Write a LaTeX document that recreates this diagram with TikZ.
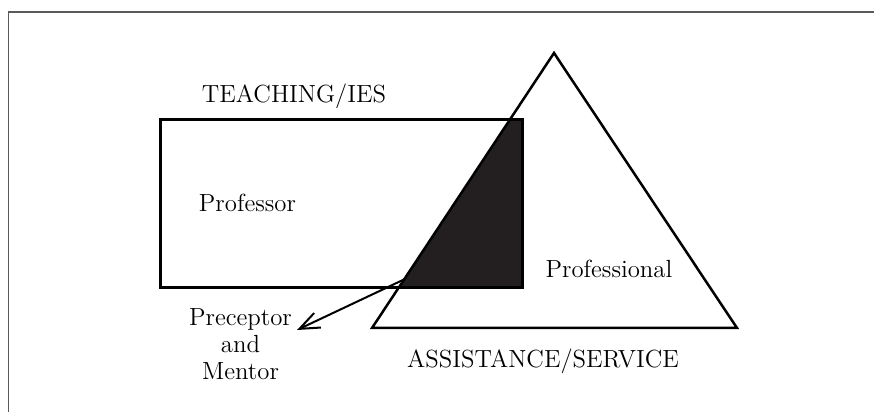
\documentclass[tikz,border=0pt]{standalone}
\usepackage{tikz}
\usetikzlibrary{arrows.meta}

\definecolor{framegray}{HTML}{5A5A5A}
\definecolor{overlap}{HTML}{231F20}

\begin{document}
\begin{tikzpicture}[x=0.5pt,y=0.5pt,line join=miter]
  \tikzstyle{label}=[inner sep=0pt,anchor=base,font=\fontsize{12.4}{13.5}\selectfont]
  \tikzstyle{box}=[draw,line width=1.5pt,minimum width=181pt,minimum height=84pt,inner sep=0pt,outer sep=0pt]
  \tikzstyle{tri}=[line width=1.25pt]

  \useasboundingbox (0,0) rectangle (874,412);
  % frame, open to the right and bottom
  \draw[framegray,line width=0.65pt] (8.5,0) -- (8.5,400) -- (874,400);

  % teaching box and service triangle
  \node[box]       (teaching) at (341,208) {};
  \coordinate      (top)      at (554,359);
  \coordinate      (left)     at (372,84);
  \coordinate      (right)    at (737,84);

  % shaded overlap
  \begin{scope}
    \clip (teaching.south west) rectangle (teaching.north east);
    \fill[overlap] (top) -- (left) -- (right) -- cycle;
  \end{scope}
  \node[box] at (teaching) {};
  \draw[tri] (top) -- (left) -- (right) -- cycle;

  % labels
  \node[label] (ies)    at (294,309) {TEACHING/IES};
  \node[label] (prof)   at (247.5,200) {Professor};
  \node[label] (pro)    at (609,134) {Professional};
  \node[label] (serv)   at (543,44)  {ASSISTANCE/SERVICE};
  % base of a multi-line node sits on its last line
  \node[label,align=center] (mentor) at (240.5,32) {Preceptor\\and\\Mentor};

  % arrow out of the overlap
  \coordinate (from) at (405,133);
  \coordinate (to)   at (297,82);
  \draw[line width=1pt,-{Straight Barb[length=10pt,width=8pt]}] (from) -- (to);
\end{tikzpicture}
\end{document}
